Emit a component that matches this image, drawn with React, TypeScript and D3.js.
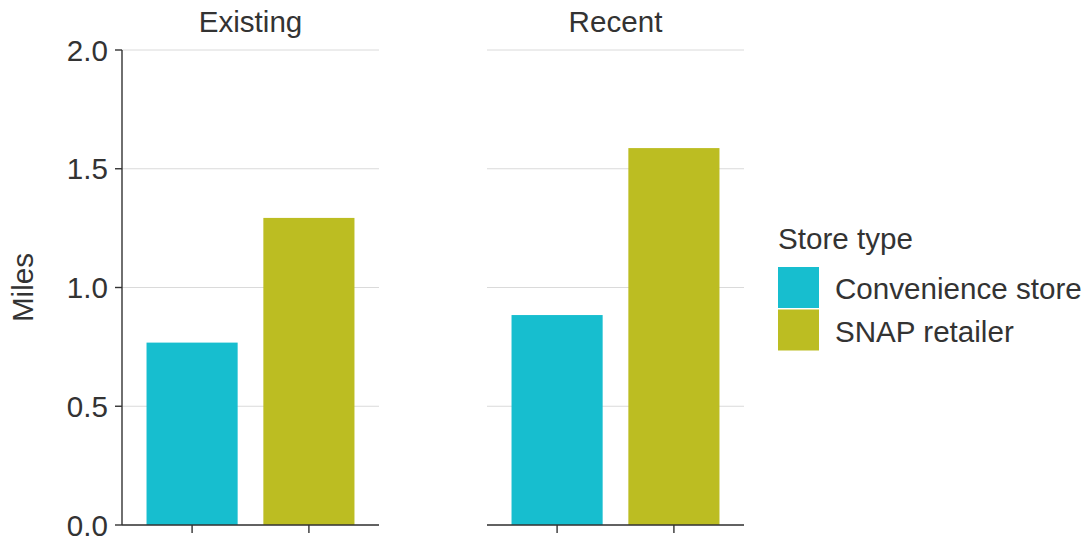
import React from "react";
import * as d3 from "d3";

const facets = ["Existing", "Recent"];
const storeTypes = ["Convenience store", "SNAP retailer"];
const existingValues = [0.768, 1.293];
const recentValues = [0.884, 1.587];
const yTicks = [0, 0.5, 1.0, 1.5, 2.0];
const colors = ["#17BECF", "#BCBD22"];

const W = 1088;
const H = 542;
const FONT = "'Liberation Sans', Arial, Helvetica, sans-serif";
const TEXT = "#333333";
const FS = 29.6;

export default function App() {
  const top = 50;
  const bottom = 525;
  const panelW = 257;
  const panelX = [122, 487];
  const y = d3.scaleLinear().domain([0, 2]).range([bottom, top]);
  const values = [existingValues, recentValues];

  const x = d3.scaleLinear().domain([0.4, 2.6]).range([0, panelW]);
  const barW = x(1.78) - x(1);

  return (
    <svg
      width={W}
      height={H}
      style={{ position: "absolute", left: 0, top: 0, background: "#fff" }}
      fontFamily={FONT}
    >
      {facets.map((f, fi) => {
        const px = panelX[fi];
        return (
          <g key={f} transform={`translate(${px},0)`}>
            {yTicks.map((t) => (
              <line
                key={t}
                x1={0}
                x2={panelW}
                y1={y(t)}
                y2={y(t)}
                stroke="#dadada"
                strokeWidth={1}
              />
            ))}
            {storeTypes.map((s, si) => {
              const v = values[fi][si];
              const cx = x(si + 1);
              return (
                <rect
                  key={s}
                  x={cx - barW / 2}
                  y={y(v)}
                  width={barW}
                  height={y(0) - y(v)}
                  fill={colors[si]}
                />
              );
            })}
            <line x1={0} x2={panelW} y1={bottom} y2={bottom} stroke={TEXT} strokeWidth={1.4} />
            {storeTypes.map((s, si) => (
              <line
                key={s}
                x1={x(si + 1)}
                x2={x(si + 1)}
                y1={bottom}
                y2={bottom + 8}
                stroke={TEXT}
                strokeWidth={1.4}
              />
            ))}
            <text x={panelW / 2} y={32} textAnchor="middle" fontSize={FS} fill={TEXT}>
              {f}
            </text>
            {fi === 0 && (
              <g>
                <line x1={0} x2={0} y1={top} y2={bottom} stroke={TEXT} strokeWidth={1.4} />
                {yTicks.map((t) => (
                  <g key={t}>
                    <line x1={-7} x2={0} y1={y(t)} y2={y(t)} stroke={TEXT} strokeWidth={1.4} />
                    <text
                      x={-14}
                      y={y(t) + 10.5}
                      textAnchor="end"
                      fontSize={FS}
                      fill={TEXT}
                    >
                      {t.toFixed(1)}
                    </text>
                  </g>
                ))}
              </g>
            )}
          </g>
        );
      })}
      <text
        transform={`translate(33,${(top + bottom) / 2}) rotate(-90)`}
        textAnchor="middle"
        fontSize={FS}
        fill={TEXT}
      >
        Miles
      </text>
      <g transform="translate(778,0)">
        <text x={0} y={249} fontSize={FS} fill={TEXT}>
          Store type
        </text>
        {storeTypes.map((s, i) => (
          <g key={s} transform={`translate(0,${267 + i * 42.5})`}>
            <rect x={0} y={0} width={41} height={41} fill={colors[i]} />
            <text x={57} y={32} fontSize={FS} fill={TEXT}>
              {s}
            </text>
          </g>
        ))}
      </g>
    </svg>
  );
}
